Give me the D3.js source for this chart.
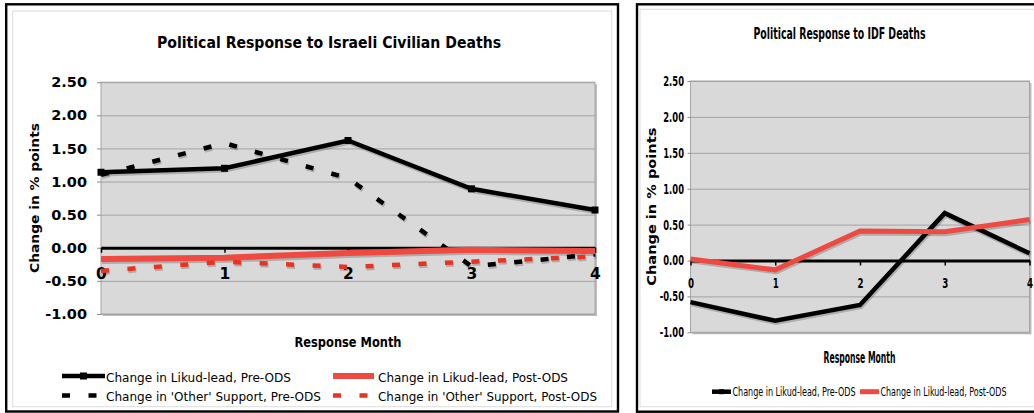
<!DOCTYPE html>
<html>
<head>
<meta charset="utf-8">
<script src="https://cdnjs.cloudflare.com/ajax/libs/d3/7.8.5/d3.min.js"></script>
<style>
body { margin: 0; background: #fff; }
svg text { font-family: "DejaVu Sans", Verdana, sans-serif; fill: #000; }
</style>
</head>
<body>
<svg id="charts" width="1034" height="413"></svg>
<script>
// DATA
var months = [0, 1, 2, 3, 4];
var month_labels = ['0', '1', '2', '3', '4'];
var y_ticks = [-1, -0.5, 0, 0.5, 1, 1.5, 2, 2.5];
var y_tick_labels = ['-1.00', '-0.50', '0.00', '0.50', '1.00', '1.50', '2.00', '2.50'];

// Response to Israeli civilian deaths
var civ_likud_pre = [1.14, 1.20, 1.62, 0.89, 0.57];
var civ_other_pre = [1.10, 1.58, 1.05, -0.28, -0.10];
var civ_likud_post = [-0.17, -0.15, -0.08, -0.03, -0.05];
var civ_other_post = [-0.35, -0.21, -0.29, -0.21, -0.13];

// Response to IDF deaths
var idf_likud_pre = [-0.58, -0.84, -0.62, 0.66, 0.10];
var idf_likud_post = [0.02, -0.13, 0.41, 0.40, 0.57];

var series_names = [
    "Change in Likud-lead, Pre-ODS",
    "Change in Likud-lead, Post-ODS",
    "Change in 'Other' Support, Pre-ODS",
    "Change in 'Other' Support, Post-ODS"
];
var titles = ['Political Response to Israeli Civilian Deaths', 'Political Response to IDF Deaths'];
var x_title = 'Response Month';
var y_title = 'Change in % points';

// STYLES
var styles = {
    likud_pre: { color: '#000', width: 4.5, dash: null, marker: 7 },
    likud_post: { color: '#ef4a42', width: 6, dash: null },
    other_pre: { color: '#000', width: 4.5, dash: '8,18.5' },
    other_post: { color: '#e9321f', width: 4.5, dash: '8,18.5' },
    idf_pre: { color: '#000', width: 4.5, dash: null },
    idf_post: { color: '#ef4a42', width: 5, dash: null }
};

// UTILS
var utils = {
    fit: function(sel, len) {
        // Force a text to a given width, the original fonts are narrower.
        sel.attr('textLength', len).attr('lengthAdjust', 'spacingAndGlyphs');
        return sel;
    },
    squeeze: function(sel, f) {
        sel.each(function() {
            var l = this.getComputedTextLength();
            d3.select(this).attr('textLength', l * f).attr('lengthAdjust', 'spacingAndGlyphs');
        });
    },
    label: function(g, txt, x, y, size, weight, len) {
        var t = g.append('text')
            .attr('x', x)
            .attr('y', y + 0.36 * size)
            .attr('text-anchor', 'middle')
            .attr('font-size', size)
            .attr('font-weight', weight)
            .text(txt);
        if ( len ) utils.fit(t, len);
        return t;
    }
};

// CHART
var chrt = {
    build_chart: function(c) {
        var svg = d3.select('svg#charts');
        var g = svg.append('g');

        // frames
        g.append('rect')
            .attr('x', c.frame[0]).attr('y', c.frame[1])
            .attr('width', c.frame[2]).attr('height', c.frame[3])
            .attr('fill', '#fff').attr('stroke', '#000').attr('stroke-width', 2.4);
        g.append('rect')
            .attr('x', c.inner[0]).attr('y', c.inner[1])
            .attr('width', c.inner[2]).attr('height', c.inner[3])
            .attr('fill', 'none').attr('stroke', '#dcdcdc').attr('stroke-width', 1);

        var x = d3.scaleLinear().domain([0, 4]).range([c.plot.left, c.plot.right]);
        var y = d3.scaleLinear().domain([-1, 2.5]).range([c.plot.bottom, c.plot.top]);
        var pw = c.plot.right - c.plot.left;
        var ph = c.plot.bottom - c.plot.top;

        // plot area
        g.append('rect')
            .attr('x', c.plot.left + 2).attr('y', c.plot.top + 2)
            .attr('width', pw).attr('height', ph)
            .attr('fill', '#bdbdbd');
        g.append('rect')
            .attr('x', c.plot.left).attr('y', c.plot.top)
            .attr('width', pw).attr('height', ph)
            .attr('fill', '#d9d9d9').attr('stroke', '#a5a5a5').attr('stroke-width', 1);

        // gridlines
        var grid = g.append('g')
            .attr('transform', 'translate(' + c.plot.left + ',0)')
            .call(d3.axisLeft(y).tickValues(y_ticks).tickSize(-pw).tickFormat(''));
        grid.select('.domain').remove();
        grid.selectAll('line').attr('stroke', '#a3a3a3');

        // y axis
        var ya = g.append('g')
            .attr('transform', 'translate(' + c.plot.left + ',0)')
            .call(d3.axisLeft(y).tickValues(y_ticks).tickSize(c.ytick[0]).tickPadding(c.ytick[1])
                .tickFormat(function(d, i) { return y_tick_labels[i]; }));
        ya.select('.domain').remove();
        ya.attr('font-family', null).attr('font-size', c.ytick[2]).attr('font-weight', 'bold');
        ya.selectAll('line').attr('stroke', '#8c8c8c');
        if ( c.ytick[3] ) utils.squeeze(ya.selectAll('text'), c.ytick[3]);

        // x axis sits on zero
        var xa = g.append('g')
            .attr('transform', 'translate(0,' + y(0) + ')')
            .call(d3.axisBottom(x).tickValues(months).tickSize(5).tickSizeOuter(0)
                .tickFormat(function(d, i) { return month_labels[i]; }));
        xa.attr('font-family', null).attr('font-size', c.xtick[1]).attr('font-weight', 'bold');
        xa.select('.domain').attr('stroke', '#000').attr('stroke-width', 3);
        xa.selectAll('line').attr('stroke', '#000').attr('stroke-width', 1.5);
        xa.selectAll('text').attr('y', c.xtick[0]).attr('dy', '0.36em');
        if ( c.xtick[2] ) utils.squeeze(xa.selectAll('text'), c.xtick[2]);

        // series
        c.series.forEach(function(s) {
            var line = d3.line()
                .x(function(d, i) { return x(months[i]); })
                .y(function(d) { return y(d); });
            g.append('path')
                .datum(s.values)
                .attr('transform', 'translate(1,2)')
                .attr('fill', 'none')
                .attr('stroke', 'rgba(0,0,0,0.2)')
                .attr('stroke-width', s.style.width)
                .attr('stroke-dasharray', s.style.dash)
                .attr('d', line);
            g.append('path')
                .datum(s.values)
                .attr('fill', 'none')
                .attr('stroke', s.style.color)
                .attr('stroke-width', s.style.width)
                .attr('stroke-dasharray', s.style.dash)
                .attr('d', line);
            if ( s.style.marker ) {
                var m = s.style.marker;
                g.selectAll(null)
                    .data(s.values)
                    .enter().append('rect')
                    .attr('x', function(d, i) { return x(months[i]) - m / 2; })
                    .attr('y', function(d) { return y(d) - m / 2; })
                    .attr('width', m).attr('height', m)
                    .attr('fill', s.style.color);
            }
        });

        // titles
        utils.label(g, c.title.text, c.title.x, c.title.y, c.title.size, 'bold', c.title.len);
        utils.label(g, x_title, c.xtitle.x, c.xtitle.y, c.xtitle.size, 'bold', c.xtitle.len);
        var yl = g.append('text')
            .attr('transform', 'translate(' + c.ytitle.x + ',' + c.ytitle.y + ') rotate(-90)')
            .attr('dy', '0.36em')
            .attr('text-anchor', 'middle')
            .attr('font-size', c.ytitle.size)
            .attr('font-weight', 'bold')
            .text(y_title);
        utils.fit(yl, c.ytitle.len);

        // legend
        c.legend.forEach(function(l) {
            var st = l.style;
            g.append('line')
                .attr('x1', l.x0).attr('x2', l.x1)
                .attr('y1', l.y).attr('y2', l.y)
                .attr('stroke', st.color)
                .attr('stroke-width', st.dash ? 4.5 : st.width)
                .attr('stroke-dasharray', st.dash);
            if ( l.marker ) {
                g.append('rect')
                    .attr('x', (l.x0 + l.x1) / 2 - l.marker / 2)
                    .attr('y', l.y - l.marker / 2)
                    .attr('width', l.marker).attr('height', l.marker)
                    .attr('fill', st.color);
            }
            var t = g.append('text')
                .attr('x', l.tx).attr('y', l.ty)
                .attr('font-size', l.size)
                .text(l.name);
            utils.fit(t, l.len);
        });
    },
    init: function() {
        chrt.build_chart({
            frame: [6.2, 4.3, 611.8, 407.2],
            inner: [12.7, 11, 599, 395.7],
            plot: { left: 101, right: 595, top: 82.2, bottom: 314 },
            title: { text: titles[0], x: 329, y: 42.7, size: 16, len: 344 },
            ytick: [4, 10, 14.5],
            xtick: [25.5, 15.5],
            ytitle: { x: 34, y: 198, size: 12.5, len: 150 },
            xtitle: { x: 348, y: 341.7, size: 14, len: 107 },
            series: [
                { values: civ_likud_pre, style: styles.likud_pre },
                { values: civ_other_pre, style: styles.other_pre },
                { values: civ_likud_post, style: styles.likud_post },
                { values: civ_other_post, style: styles.other_post }
            ],
            legend: [
                { name: series_names[0], style: styles.likud_pre, marker: 7, x0: 62, x1: 105, y: 376, tx: 106, ty: 381.5, size: 13, len: 185 },
                { name: series_names[2], style: styles.other_pre, x0: 62, x1: 97, y: 395.5, tx: 106, ty: 401, size: 13, len: 215 },
                { name: series_names[1], style: styles.likud_post, x0: 333, x1: 374, y: 376, tx: 378, ty: 381.5, size: 13, len: 190 },
                { name: series_names[3], style: styles.other_post, x0: 333, x1: 370, y: 395.5, tx: 378, ty: 401, size: 13, len: 219 }
            ]
        });
        chrt.build_chart({
            frame: [637, 4.3, 420, 407.4],
            inner: [640, 9.3, 420, 397.4],
            plot: { left: 690.5, right: 1029.5, top: 81, bottom: 332.3 },
            title: { text: titles[1], x: 839.5, y: 33.3, size: 16, len: 172 },
            ytick: [3, 3.5, 14, 0.6],
            xtick: [22.4, 14, 0.62],
            ytitle: { x: 651.7, y: 206.7, size: 13, len: 158 },
            xtitle: { x: 859.5, y: 357.3, size: 15, len: 72 },
            series: [
                { values: idf_likud_pre, style: styles.idf_pre },
                { values: idf_likud_post, style: styles.idf_post }
            ],
            legend: [
                { name: series_names[0], style: styles.idf_pre, marker: 5, x0: 712, x1: 731, y: 391.7, tx: 732.5, ty: 396, size: 12.5, len: 123 },
                { name: series_names[1], style: styles.idf_post, x0: 860, x1: 879, y: 391.7, tx: 880.5, ty: 396, size: 12.5, len: 126 }
            ]
        });
    }
};

chrt.init();
</script>
</body>
</html>
